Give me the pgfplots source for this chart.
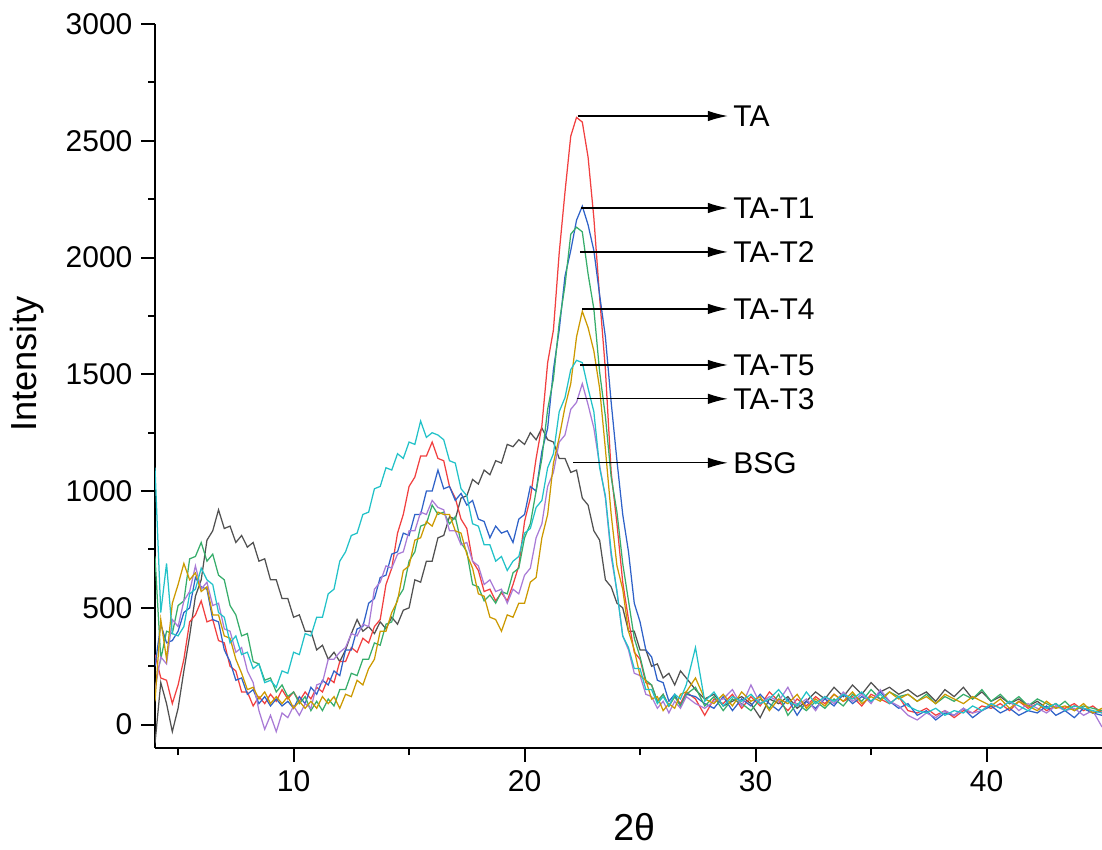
\documentclass[border=0pt]{standalone}
\usepackage{fontspec}
\setmainfont{Liberation Sans}
\usepackage{pgfplots}
\usepackage{pgfplotstable}
\pgfplotsset{compat=1.18}
\usetikzlibrary{arrows.meta}

\definecolor{cBSG}{HTML}{515151}
\definecolor{cTA}{HTML}{F14040}
\definecolor{cTone}{HTML}{2F62C8}
\definecolor{cTtwo}{HTML}{37AD6B}
\definecolor{cTthree}{HTML}{A97BD6}
\definecolor{cTfour}{HTML}{CC9900}
\definecolor{cTfive}{HTML}{22C2C8}

% XRD patterns, intensity
\pgfplotstableread{
x     BSG   TA    T1    T2    T3    T4    T5
4.00  -80   300   250   720   150   100   1100
4.25  180   200   430   280   290   450   480
4.50  90    190   350   400   260   280   690
4.75  -30   90    360   390   450   520   390
5.00  70    170   400   510   420   600   380
5.25  230   280   480   530   530   690   420
5.50  380   440   500   710   570   620   560
5.75  550   470   630   720   680   650   580
6.00  620   530   590   780   580   570   670
6.25  790   440   580   700   610   590   620
6.50  830   450   450   730   510   470   600
6.75  920   360   440   640   520   470   480
7.00  840   350   320   620   410   380   460
7.25  850   250   270   510   400   370   350
7.50  780   230   190   470   310   280   380
7.75  810   140   200   380   330   220   300
8.00  760   140   130   390   230   150   310
8.25  780   80    150   270   180   160   240
8.50  700   120   90    260   60    110   260
8.75  710   90    120   190   -20   140   180
9.00  620   130   80    200   40    90    190
9.25  620   100   110   140   -30   120   160
9.50  540   150   80    170   50    90    230
9.75  540   110   100   120   30    120   220
10.00 460   140   70    140   80    70    310
10.25 470   100   120   90    40    100   300
10.50 400   140   90    120   90    70    390
10.75 400   110   160   60    70    100   380
11.00 320   160   130   100   170   70    460
11.25 340   140   190   60    180   120   460
11.50 280   200   170   110   280   90    560
11.75 310   180   230   80    280   120   580
12.00 270   270   210   150   310   70    700
12.25 320   270   320   150   330   130   740
12.50 390   330   320   220   390   120   810
12.75 450   310   410   210   380   190   820
13.00 400   370   420   280   430   170   900
13.25 420   350   520   280   420   240   910
13.50 390   420   540   350   580   280   1010
13.75 440   450   630   340   610   400   1020
14.00 410   600   640   430   680   400   1100
14.25 460   670   730   440   670   480   1090
14.50 430   820   740   540   730   530   1160
14.75 490   900   820   580   740   660   1140
15.00 500   1020  810   700   830   680   1210
15.25 620   1060  900   740   830   790   1200
15.50 610   1150  900   850   910   800   1300
15.75 700   1150  1000  860   900   870   1230
16.00 700   1210  1000  940   960   850   1250
16.25 800   1140  1090  900   930   910   1240
16.50 810   1130  1010  910   920   900   1220
16.75 890   1020  1020  860   830   900   1130
17.00 880   970   960   890   830   830   1120
17.25 970   880   990   780   770   820   1010
17.50 980   840   940   740   780   730   980
17.75 1050  700   960   600   700   670   860
18.00 1030  660   880   590   680   560   850
18.25 1090  570   870   530   600   550   770
18.50 1070  580   800   555   620   460   770
18.75 1130  530   850   520   570   450   700
19.00 1120  565   820   570   580   400   720
19.25 1200  530   830   560   520   470   660
19.50 1190  600   780   650   580   460   700
19.75 1220  680   880   670   560   520   720
20.00 1200  870   900   800   640   520   820
20.25 1250  970   1020  860   670   610   840
20.50 1220  1140  1000  1000  800   630   930
20.75 1270  1280  1170  1140  860   800   960
21.00 1220  1550  1270  1350  1020  900   1100
21.25 1210  1690  1520  1480  1080  1120  1160
21.50 1140  2020  1690  1720  1210  1230  1340
21.75 1140  2280  1920  1880  1240  1360  1400
22.00 1080  2520  2030  2100  1350  1460  1520
22.25 1090  2600  2160  2130  1380  1660  1560
22.50 970   2580  2220  2110  1460  1770  1550
22.75 940   2430  2140  1930  1370  1700  1440
23.00 830   2170  2030  1780  1270  1600  1340
23.25 790   1830  1840  1510  1110  1440  1100
23.50 620   1520  1660  1320  970   1180  980
23.75 590   1080  1380  1060  720   900   740
24.00 520   860   1130  910   570   680   570
24.25 500   610   900   690   380   580   380
24.50 400   450   740   530   320   400   330
24.75 400   310   520   370   220   320   240
25.00 320   280   440   290   210   210   240
25.25 320   180   320   190   130   190   150
25.50 250   170   290   170   120   110   150
25.75 260   100   190   100   70    120   90
26.00 200   130   180   130   100   60    120
26.25 220   80    100   80    50    90    80
26.50 170   120   130   120   100   70    130
26.75 230   90    80    80    70    130   110
27.00 200   140   130   130   120   140   170
27.40 150   110   120   160   90    200   330
27.80 110   40    90    80    70    110   100
28.20 130   110   70    120   100   90    140
28.60 80    90    120   60    110   130   80
29.00 100   130   60    110   150   80    120
29.40 120   70    110   90    80    140   100
29.80 90    120   80    60    170   100   130
30.20 30    80    130   110   90    120   90
30.60 110   140   90    70    120   60    110
31.00 90    100   60    130   100   110   150
31.40 120   60    110   40    160   90    100
31.80 70    110   40    90    80    130   80
32.20 100   80    100   60    110   70    140
32.60 140   120   70    100   60    110   90
33.00 110   90    110   70    120   80    120
33.40 160   130   80    110   90    130   100
33.80 120   100   130   80    140   100   130
34.20 170   120   90    130   100   140   110
34.60 130   80    120   100   130   90    140
35.00 180   130   100   150   90    120   100
35.40 140   110   140   110   150   100   130
35.80 160   90    100   140   100   140   90
36.20 130   120   70    120   80    110   120
36.60 150   60    90    130   40    130   80
37.00 120   50    40    100   20    100   60
37.40 140   70    60    130   50    120   50
37.80 100   40    20    90    30    90    70
38.20 150   60    50    120   60    130   40
38.60 120   30    40    100   40    110   60
39.00 160   60    70    130   70    90    50
39.40 110   50    30    110   50    120   80
39.80 140   80    60    150   60    100   60
40.20 100   70    80    100   90    80    90
40.60 120   90    50    130   70    110   70
41.00 90    60    70    90    100   70    100
41.40 110   100   40    120   60    100   80
41.80 80    70    60    80    90    80    60
42.20 100   90    50    110   70    60    90
42.60 70    60    80    90    50    100   70
43.00 90    80    40    70    80    70    90
43.40 60    70    60    100   60    80    60
43.80 80    90    30    60    70    60    80
44.20 70    60    70    80    40    90    70
44.60 50    80    50    70    60    50    60
45.00 60    50    40    60    -10   70    50
}\xrd

\begin{document}
\begin{tikzpicture}
\begin{axis}[
  scale only axis,
  width=378.8pt, height=289.6pt,
  xmin=4, xmax=45, ymin=-100, ymax=3000,
  axis lines*=left,
  axis line style={-, line width=0.9pt},
  tick align=outside,
  major tick length=5.5pt,
  minor tick length=2.8pt,
  every tick/.style={black, line width=0.8pt},
  xtick={10,20,30,40},
  minor xtick={5,15,25,35},
  ytick={0,500,...,3000},
  minor ytick={250,750,...,2750},
  /pgf/number format/assume math mode=true,
  /pgf/number format/1000 sep={},
  ticklabel style={font=\fontsize{12}{14}\selectfont},
  xlabel={2θ},
  ylabel={Intensity},
  xlabel style={font=\fontsize{15}{17}\selectfont, at={(axis description cs:0.506,-0.109)}, anchor=center},
  ylabel style={font=\fontsize{14.5}{17}\selectfont, at={(axis description cs:-0.135,0.53)}, anchor=center},
  every axis plot/.append style={line width=0.5pt},
]
\addplot[cBSG] table[x=x, y=BSG] {\xrd};
\addplot[cTA] table[x=x, y=TA] {\xrd};
\addplot[cTone] table[x=x, y=T1] {\xrd};
\addplot[cTtwo] table[x=x, y=T2] {\xrd};
\addplot[cTthree] table[x=x, y=T3] {\xrd};
\addplot[cTfour] table[x=x, y=T4] {\xrd};
\addplot[cTfive] table[x=x, y=T5] {\xrd};

\begin{scope}[every node/.style={right, inner sep=2pt, font=\fontsize{12}{14}\selectfont},
              arr/.style={black, line width=0.5pt, -{Latex[length=8pt, width=4.2pt]}}]
\draw[arr] (axis cs:22.3,2606) -- (axis cs:28.8,2606) node {TA};
\draw[arr] (axis cs:22.45,2212) -- (axis cs:28.8,2212) node {TA-T1};
\draw[arr] (axis cs:22.4,2024) -- (axis cs:28.8,2024) node {TA-T2};
\draw[arr] (axis cs:22.5,1780) -- (axis cs:28.8,1780) node {TA-T4};
\draw[arr] (axis cs:22.4,1540) -- (axis cs:28.8,1540) node {TA-T5};
\draw[arr] (axis cs:22.25,1395) -- (axis cs:28.8,1395) node {TA-T3};
\draw[arr] (axis cs:22.1,1121) -- (axis cs:28.8,1121) node {BSG};
\end{scope}
\end{axis}
\pgfresetboundingbox
\path ([shift={(-62pt,-40.4pt)}]current axis.south west) rectangle ([shift={(0pt,9.6pt)}]current axis.north east);
\end{tikzpicture}
\end{document}
